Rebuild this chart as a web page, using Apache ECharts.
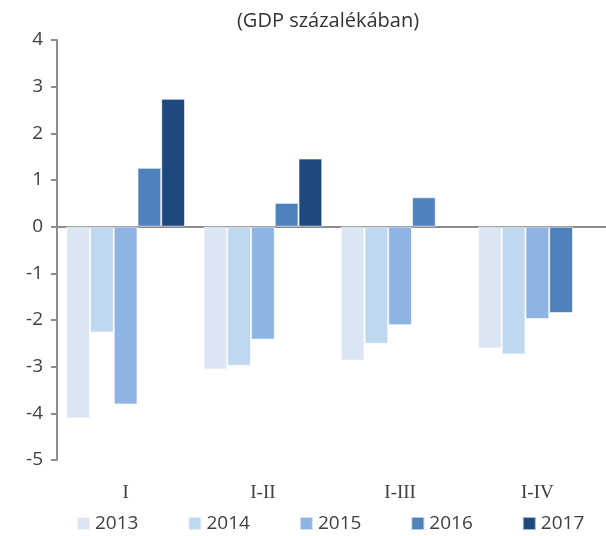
<!DOCTYPE html>
<html>
<head>
<meta charset="utf-8">
<script src="https://cdn.jsdelivr.net/npm/echarts@6/dist/echarts.min.js"></script>
<style>
  html, body { margin: 0; padding: 0; background: #fff; }
  #chart { width: 606px; height: 536px; }
</style>
</head>
<body>
<div id="chart"></div>
<script>
const categories = ["I", "I-II", "I-III", "I-IV"];
const years = ["2013", "2014", "2015", "2016", "2017"];
const v2013 = [-4.11, -3.06, -2.87, -2.61];
const v2014 = [-2.27, -2.98, -2.51, -2.74];
const v2015 = [-3.81, -2.42, -2.11, -1.98];
const v2016 = [1.26, 0.51, 0.63, -1.85];
const v2017 = [2.74, 1.46, null, null];
const yTicks = [-5, 4, 1];

const colors = ["#DCE6F2", "#BFD8F0", "#8EB4E3", "#4F81BD", "#1F497D"];
const values = [v2013, v2014, v2015, v2016, v2017];

const chart = echarts.init(document.getElementById("chart"));

const option = {
  animation: false,
  title: {
    text: "(GDP százalékában)",
    left: 323,
    top: 6,
    textAlign: "center",
    textStyle: {
      fontFamily: "Open Sans",
      fontSize: 20,
      fontWeight: "normal",
      color: "#333"
    }
  },
  grid: {
    left: 57,
    right: -5,
    top: 40,
    bottom: 76,
    containLabel: false
  },
  legend: {
    top: 514,
    left: 76,
    width: 560,
    padding: 0,
    itemWidth: 13,
    itemHeight: 13,
    itemGap: 49,
    icon: "rect",
    textStyle: {
      fontFamily: "Open Sans",
      fontSize: 19,
      color: "#404040"
    },
    data: years
  },
  xAxis: [
    {
      type: "category",
      data: categories,
      axisLine: { onZero: true, lineStyle: { color: "#8c8c8c", width: 2 } },
      axisTick: { show: false },
      axisLabel: { show: false }
    },
    {
      type: "category",
      data: categories,
      position: "bottom",
      axisLine: { show: false, onZero: false },
      axisTick: { show: false },
      axisLabel: {
        margin: 24,
        fontFamily: "Liberation Serif",
        fontSize: 19,
        color: "#404040"
      }
    }
  ],
  yAxis: {
    type: "value",
    min: yTicks[0],
    max: yTicks[1],
    interval: yTicks[2],
    axisLine: { show: true, lineStyle: { color: "#8c8c8c", width: 2 } },
    axisTick: { show: true, length: 6, lineStyle: { color: "#8c8c8c", width: 2 } },
    splitLine: { show: false },
    axisLabel: {
      margin: 14,
      fontFamily: "Open Sans",
      fontSize: 19,
      color: "#404040"
    }
  },
  series: years.map((y, i) => ({
    name: y,
    type: "bar",
    xAxisIndex: 0,
    data: values[i],
    barGap: 0,
    barCategoryGap: "13.5%",
    itemStyle: {
      color: colors[i],
      borderColor: "rgba(255,255,255,0.6)",
      borderWidth: 1
    }
  }))
};

chart.setOption(option);
</script>
</body>
</html>
